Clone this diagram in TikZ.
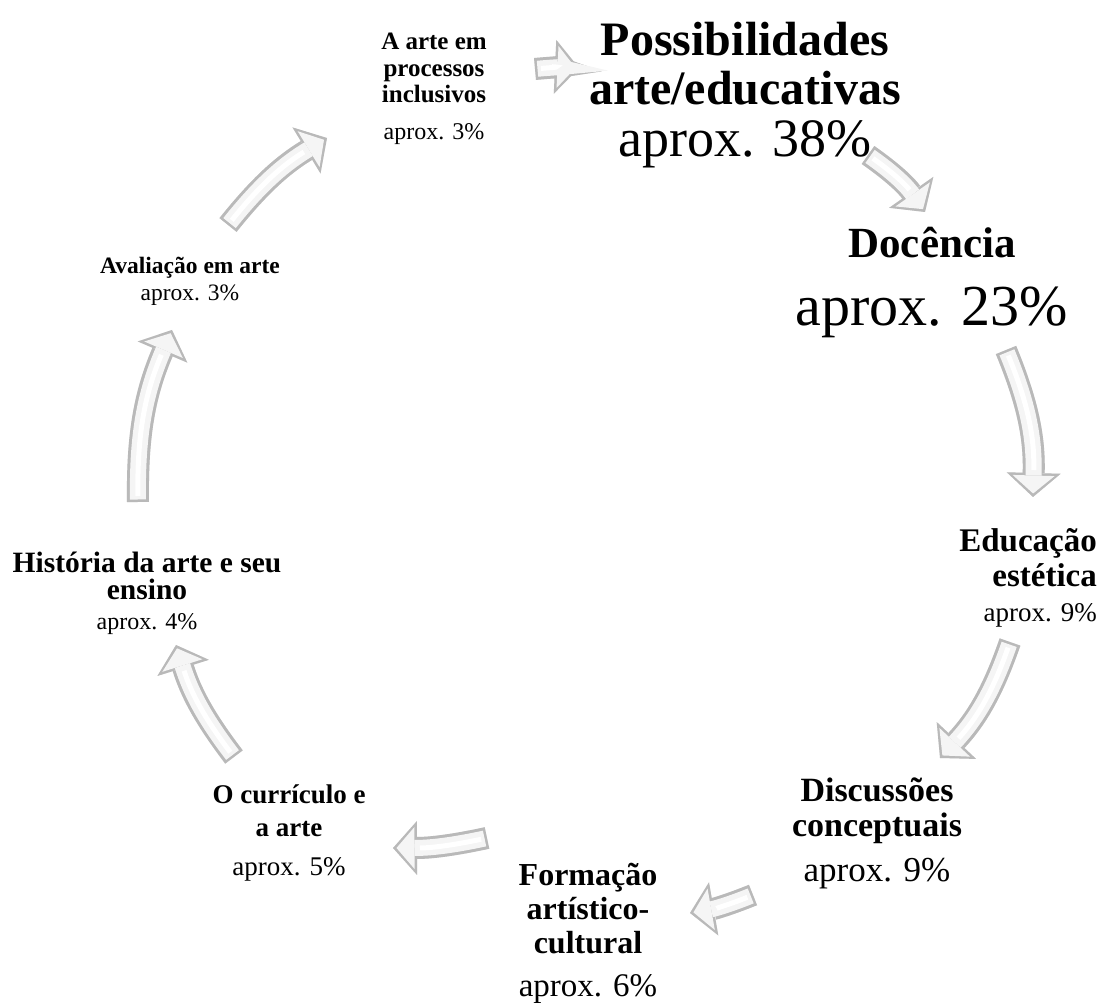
\documentclass[tikz,border=0pt]{standalone}
\usepackage{fontspec}
\setmainfont{Liberation Serif}
\usetikzlibrary{arrows.meta}
\lineskiplimit=-100pt

\newcommand\share[2]{\mdseries\fontsize{#1}{#1}\selectfont aprox. #2\%}

\tikzset{
  topic/.style 2 args={inner sep=0pt, align=center, font={\bfseries\fontsize{#1}{#2}\selectfont}},
  arrowshade/.style={draw=gray!18, line width=22pt, xshift=2pt, yshift=-3pt, -{Triangle[width=54pt,length=24pt,line width=0pt]}},
  arrowedge/.style={draw=gray!55, line width=22pt, -{Triangle[width=54pt,length=24pt,line width=0pt]}},
  arrowface/.style={draw=gray!8, line width=16pt, shorten >=3.5pt, shorten <=2.5pt, -{Triangle[width=42pt,length=18pt,line width=0pt]}},
  arrowshine/.style={draw=white, line width=5pt, shorten >=27pt, shorten <=6pt},
}

\begin{document}
\begin{tikzpicture}[x=1pt,y=1pt]
\useasboundingbox (0,0) rectangle (1103,1002);

% topics, clockwise from the top
\node[topic={25}{26.5}, anchor=north] (incl) at (434,969) {A arte em\\processos\\inclusivos\\[10.5pt]\share{24}{3}};
\node[topic={48}{49}, anchor=north] (poss) at (745,980) {Possibilidades\\arte/educativas\\[3pt]\share{54}{38}};
\node[topic={43}{68}, anchor=north] (doc) at (932,775) {Docência\\\share{58}{23}};
\node[topic={33}{35}, align=right, anchor=north east] (edu) at (1097,474) {Educação\\estética\\\share{27}{9}};
\node[topic={34}{35}, anchor=north] (disc) at (877,224) {Discussões\\conceptuais\\[10pt]\share{35}{9}};
\node[topic={32}{34}, anchor=north] (form) at (588,139) {Formação\\artístico-\\cultural\\[9pt]\share{33}{6}};
\node[topic={27}{33}, anchor=north] (curr) at (289,217) {O currículo e\\a arte\\[6pt]\share{27}{5}};
\node[topic={29.5}{27}, anchor=north] (hist) at (147,450) {História da arte e seu\\ensino\\[3pt]\share{24}{4}};
\node[topic={23.5}{27}, anchor=north] (aval) at (190,745) {Avaliação em arte\\\share{23.5}{3}};

% arrow ends
\coordinate (a1) at (535,933); \coordinate (b1) at (579,934);
\coordinate (a2) at (868,847); \coordinate (b2) at (925,790);
\coordinate (a3) at (1006,652); \coordinate (b3) at (1033,505);
\coordinate (a4) at (1010,360); \coordinate (b4) at (940,244);
\coordinate (a5) at (753,107); \coordinate (b5) at (690,89);
\coordinate (a6) at (487,164); \coordinate (b6) at (393,154);
\coordinate (a7) at (234,245); \coordinate (b7) at (176,357);
\coordinate (a8) at (138,500); \coordinate (b8) at (172,672);
\coordinate (a9) at (228,777); \coordinate (b9) at (327,864);

\foreach \a/\b/\bnd in {a1/b1/4, a2/b2/10, a3/b3/12, a4/b4/12, a5/b5/6, a6/b6/6, a7/b7/10, a8/b8/12, a9/b9/10} {
  \draw[arrowshade] (\a) to[bend left=\bnd] (\b);
  \draw[arrowedge] (\a) to[bend left=\bnd] (\b);
  \draw[arrowface] (\a) to[bend left=\bnd] (\b);
  \draw[arrowshine] (\a) to[bend left=\bnd] (\b);
}
\end{tikzpicture}
\end{document}
